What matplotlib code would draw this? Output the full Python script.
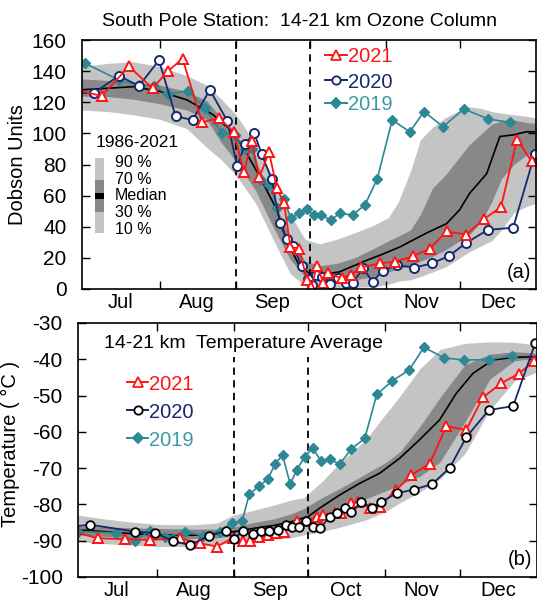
import numpy as np
import matplotlib
matplotlib.use("Agg")
import matplotlib.pyplot as plt
from matplotlib.patches import Rectangle
from matplotlib.lines import Line2D

plt.rcParams['font.family'] = ['Liberation Sans', 'DejaVu Sans']
plt.rcParams['axes.unicode_minus'] = False

# x axis is days since 1 July
month_starts = [31, 62, 92, 123, 153]
month_mids = [15, 46, 76.5, 107, 137.5, 168.5]
month_names = ['Jul', 'Aug', 'Sep', 'Oct', 'Nov', 'Dec']
dashed_days = [62, 92]

# ---- (a) 14-21 km ozone column, Dobson Units ----
oz21_day = [-3, 7.3, 18.4, 28, 34.3, 40.2, 48.1, 55, 61, 65.2, 68.3, 71.5, 75.4, 78.5, 81.5,
            84.1, 87.5, 90.9, 92.5, 95, 97.4, 99.5, 104.9, 108.6, 113, 120.5, 126.6, 133.8,
            140.8, 147.6, 155.7, 162.8, 169.7, 176.3, 182.2]
oz21 = [128, 124, 143, 129, 140, 148, 107, 110, 101, 75, 95, 72, 88, 65, 55,
        27, 26, 6, 1, 15, 4, 10, 7, 9, 14, 16.5, 17.5, 21,
        26, 37, 35, 45, 52.5, 96, 82]

oz20_day = [-3, 4.2, 14.3, 22.5, 30.6, 37.4, 44.3, 51.3, 58.4, 62.4, 65.6, 69.3, 72.4, 76.4,
            79.8, 82.5, 85.2, 88.6, 91.3, 92.7, 94.4, 96.8, 100.1, 103.5, 106.6, 109.4, 113.7,
            117.5, 121.6, 127.5, 134.4, 141.5, 148.6, 155.7, 164.5, 174.7, 183.5]
oz20 = [126, 126, 137, 130.5, 147, 111, 108.6, 128, 108, 79, 93, 100.5, 86.8, 70.7,
        42.6, 32, 27.6, 15, 6.2, 2.6, 9, 8, 3, 6.9, 3.6, 4, 13.3,
        4.7, 11.8, 15.4, 13.7, 16.4, 21.2, 29.8, 38, 39.4, 86.8]

oz19_day = [0.6, 14.3, 22.5, 28.6, 34.4, 42.5, 49.3, 56.3, 61.5, 65.6, 68.3, 72, 75.5, 78.7,
            81.4, 84.3, 87.5, 90.7, 93.6, 96.5, 100.4, 104.2, 109.4, 114.4, 119.4, 125.5,
            132.7, 138.4, 146.2, 154.6, 164.5, 173.3]
oz19 = [145, 134.3, 131, 130.5, 125, 127.5, 116, 100, 99, 89.8, 89.8, 70, 66.8, 51.9,
        57.6, 45.4, 48.6, 51.2, 47.6, 47.6, 44.3, 48.6, 47.6, 54, 70.7, 108.6,
        101, 114, 104.3, 115.7, 109.3, 107.1]

oz_med_day = [-1, 10, 20, 31, 42, 52.6, 60.7, 66, 71.7, 78.5, 82.5, 88, 92, 100, 104, 110,
              116, 121, 128.6, 139.5, 147.6, 153, 157, 163.9, 169.3, 174.7, 180, 184]
oz_med = [128, 129, 130, 127, 121.5, 112, 101, 88, 72, 51, 31.5, 14, 10, 10, 11, 15,
          19, 22, 27, 36, 42, 51, 61.5, 74, 98, 99, 101, 101]

oz_band_day = [-1, 10, 20, 31, 42, 50, 56, 62, 70, 77, 84, 90, 96, 103, 110, 118, 124, 128,
               133, 137, 142, 147, 152, 157, 162, 166, 170, 175, 180, 184]
oz_p90 = [143, 145, 146, 143, 137, 131, 122, 112, 93, 72, 48, 32, 29, 32, 36, 41, 46, 56,
          76, 96, 104, 110, 114, 117, 116, 114, 113, 112, 111, 110]
oz_p70 = [135, 134, 133, 131, 127, 121, 110, 99, 82, 58, 33, 18, 15, 16.5, 20, 26, 31, 34,
          38, 48, 65, 73, 83, 93, 100, 106, 108, 108.6, 107, 106.5]
oz_p30 = [124, 123.6, 122, 119, 115, 109, 94, 82, 63, 40, 19, 8, 5.5, 5.5, 5.8, 8, 11, 13,
          15, 18, 21, 25, 30, 35, 44, 56, 71, 80, 86, 87]
oz_p10 = [115, 114, 112, 109, 103, 91, 83, 73, 55, 32, 10, 2, 0.5, 0.5, 1, 1.5, 3, 5,
          6, 8, 11, 14, 19, 24, 28, 31, 38, 49, 53, 55]

# ---- (b) 14-21 km temperature average, deg C ----
t21_day = [-3, 7.3, 18.4, 28.3, 40.4, 48.4, 55.2, 61.5, 65.5, 68.5, 72, 75.6, 78.9, 82.2,
           87.6, 91.2, 95.3, 97.9, 102.6, 105.3, 109.3, 112, 116.7, 120.7, 127.4, 133.4,
           140.8, 147.5, 155.5, 162.2, 169.6, 176.6, 182.9]
t21 = [-87.5, -89.3, -89.6, -89.8, -89.3, -90.7, -91.6, -89.3, -90.2, -90.2, -89, -88.4, -88, -87.5,
       -84.7, -84.7, -83.4, -82.9, -82.4, -82.4, -79.7, -79.2, -81, -80.6, -76, -71.9,
       -68.8, -58.4, -59.5, -50.5, -46.6, -44, -40.4]

t20_day = [-3, 4.2, 22.4, 30.4, 37.4, 44.5, 51.9, 58.8, 62.2, 65.5, 69.6, 72.9, 76.2, 79.6,
           82.9, 85.6, 88.3, 91, 93.9, 96.6, 100.6, 103.7, 106.6, 109.3, 113.3, 117.7, 121.4,
           127.7, 134.5, 141.8, 148.8, 155.6, 164.6, 174.4, 183.3]
t20 = [-86.1, -85.6, -87.5, -87.9, -90, -91.3, -88.6, -87.3, -89.6, -87.3, -88.1, -87.2, -87.2, -87,
       -85.6, -86.3, -86.1, -84.7, -86.1, -86.6, -83.5, -82.3, -81, -82.1, -79.2, -81, -79.2,
       -76.9, -75.9, -74.4, -70, -61.4, -54, -52.9, -35.5]

t19_day = [-0.5, 14.4, 22.4, 28.3, 34.5, 42.5, 49.5, 56.4, 61.2, 65.3, 68.2, 72.2, 75.6, 78.6,
           81.6, 84.7, 87.3, 90.6, 93.7, 97, 100.6, 104.6, 109.3, 114.7, 119.5, 125.5, 132.6,
           138.5, 146.6, 154.5, 164.6, 173.8]
t19 = [-87.5, -87.8, -90, -87.2, -89.1, -87.5, -88.6, -87.5, -85, -84.7, -77.2, -74.9, -73.1, -68.9,
       -66.4, -74.4, -70.5, -66.8, -64.5, -67.9, -67.6, -68.9, -64.7, -61.8, -49.7, -46.1, -42.9,
       -36.7, -39.6, -40.2, -40.1, -39.1]

t_med_day = [-1, 10, 20, 31, 45, 55, 62, 70, 78, 85, 88.6, 92, 96.6, 104.6, 112.6, 120.7, 128.7,
             136.7, 144.8, 151.5, 158.2, 166.2, 174.2, 182.3, 184]
t_med = [-87, -87.5, -88, -88.4, -88.5, -88.2, -87.5, -86.6, -85.8, -84.8, -84, -83.3, -81, -77.4,
         -74.2, -71.4, -67.3, -62.2, -56.7, -49.4, -43.9, -40.2, -39.5, -39.3, -39.3]

t_band_day = [-1, 10, 20, 31, 45, 55, 62, 70, 78, 85, 90, 97, 105, 115, 123, 129, 137, 145,
              155, 165, 175, 184]
t_p90 = [-82.9, -84.0, -84.8, -85.5, -85.6, -85.2, -82.9, -81.6, -80.2, -78.8, -78.2, -74.0, -68.3,
         -62.2, -55.2, -50.0, -42.5, -37.3, -35.6, -35.2, -35.3, -36.1]
t_p70 = [-86, -86.2, -86.4, -86.6, -86.8, -86.8, -86.2, -85, -84, -82.6, -81.2, -78.3, -75.5,
         -71.6, -68.5, -65.4, -58.4, -50.5, -41.5, -38.6, -37.9, -38.3]
t_p30 = [-88.4, -88.8, -89.2, -89.4, -89.4, -89.2, -88.5, -87.8, -87, -85.8, -84.8, -82.8, -81,
         -78.5, -76.3, -74.5, -72.2, -68.3, -57.3, -45.5, -40.4, -39.7]
t_p10 = [-90.2, -90.8, -91.2, -91.6, -91.6, -91.3, -90.2, -90, -89.6, -89.2, -88.4, -87.6, -86.2,
         -84.3, -82, -79.5, -76.5, -73.0, -66.0, -54, -46, -43.5]

RED = '#ff1414'
NAVY = '#16296e'
TEAL = '#2d8794'
TEAL_TXT = '#3a9ba6'
LIGHT = '#c4c4c4'
DARK = '#888888'

W, H = 537, 602
fig = plt.figure(figsize=(W / 100, H / 100), dpi=100)
ax1 = fig.add_axes([82 / W, 1 - 289 / H, 454 / W, 249 / H])
ax2 = fig.add_axes([78 / W, 1 - 577 / H, 459 / W, 254 / H])


def fx(px):
    return px / W


def fy(py):
    return 1 - py / H


def style(ax, ylim, yticks):
    ax.set_xlim(-0.7, 184)
    ax.set_ylim(*ylim)
    ax.set_xticks(month_starts)
    ax.set_xticklabels([])
    ax.set_xticks(month_mids, minor=True)
    ax.set_xticklabels(month_names, minor=True)
    ax.tick_params(axis='x', which='major', direction='in', top=True, bottom=True,
                   length=6, width=1)
    ax.tick_params(axis='x', which='minor', length=0, labelsize=14.5, pad=3)
    ax.set_yticks(yticks)
    ax.tick_params(axis='y', direction='in', left=True, right=True, length=6, width=1,
                   labelsize=15, pad=11)
    for s in ax.spines.values():
        s.set_linewidth(1.2)


# panel (a)
ax1.fill_between(oz_band_day, oz_p10, oz_p90, color=LIGHT, lw=0)
ax1.fill_between(oz_band_day, oz_p30, oz_p70, color=DARK, lw=0)
ax1.plot(oz_med_day, oz_med, color='black', lw=1.2)
for d in dashed_days:
    ax1.axvline(d, color='black', ls=(0, (4, 3)), lw=1.3)
ax1.plot(oz19_day, oz19, '-D', color=TEAL, lw=1.2, ms=5.5, mfc=TEAL, mec=TEAL)
ax1.plot(oz20_day, oz20, '-o', color=NAVY, lw=1.3, ms=6.5, mfc='white', mec=NAVY, mew=1.4)
ax1.plot(oz21_day, oz21, '-^', color=RED, lw=1.3, ms=7.5, mfc='white', mec=RED, mew=1.4)
style(ax1, (0, 160), np.arange(0, 161, 20))
ax1.set_ylabel('Dobson Units', fontsize=14.5)
ax1.yaxis.set_label_coords(-0.121, 0.5)
ax1.text(0.962, 0.065, '(a)', transform=ax1.transAxes, fontsize=14.5, ha='center', va='center')

# panel (b)
ax2.fill_between(t_band_day, t_p10, t_p90, color=LIGHT, lw=0)
ax2.fill_between(t_band_day, t_p30, t_p70, color=DARK, lw=0)
ax2.plot(t_med_day, t_med, color='black', lw=1.2)
for d in dashed_days:
    ax2.vlines(d, -100, -39.5, color='black', linestyles=[(0, (4, 3))], lw=1.3)
ax2.plot(t19_day, t19, '-D', color=TEAL, lw=1.2, ms=5.5, mfc=TEAL, mec=TEAL)
ax2.plot(t21_day, t21, '-^', color=RED, lw=1.3, ms=7, mfc='white', mec=RED, mew=1.4)
ax2.plot(t20_day, t20, '-o', color=NAVY, lw=1.3, ms=6.2, mfc='white', mec='black', mew=1.3)
style(ax2, (-100, -30), np.arange(-100, -29, 10))
ax2.set_ylabel('Temperature ( \u00b0C )', fontsize=14.5)
ax2.yaxis.set_label_coords(-0.126, 0.524)
ax2.text(0.962, 0.07, '(b)', transform=ax2.transAxes, fontsize=14.5, ha='center', va='center')

# titles
fig.text(fx(300), fy(22), 'South Pole Station:  14-21 km Ozone Column', fontsize=14,
         ha='center', va='center')
fig.text(fx(104), fy(343), '14-21 km  Temperature Average', fontsize=14,
         ha='left', va='center')


def legend_entry(x0, x1, y, label, line_c, txt_c, marker, mfc, mec, ms):
    fig.add_artist(Line2D([fx(x0), fx((x0 + x1) / 2), fx(x1)], [fy(y)] * 3,
                          transform=fig.transFigure, color=line_c, lw=1.4, marker=marker,
                          markevery=[1], mfc=mfc, mec=mec, ms=ms, mew=1.3))
    fig.text(fx(x1 + 1), fy(y), label, color=txt_c, fontsize=14.5, ha='left',
             va='center_baseline')


legend_entry(325, 347, 55, '2021', RED, RED, '^', 'white', RED, 7)
legend_entry(325, 347, 80, '2020', NAVY, NAVY, 'o', 'white', NAVY, 6)
legend_entry(325, 347, 103, '2019', TEAL, TEAL_TXT, 'D', TEAL, TEAL, 5.5)

legend_entry(127, 148, 382, '2021', RED, RED, '^', 'white', RED, 7)
legend_entry(127, 148, 410, '2020', NAVY, NAVY, 'o', 'white', 'black', 6)
legend_entry(127, 148, 438, '2019', TEAL, TEAL_TXT, 'D', TEAL, TEAL, 5.5)

# percentile key
key = [(158.3, 180, LIGHT), (180, 192.7, DARK), (192.7, 199, 'black'),
       (199, 211.7, DARK), (211.7, 232.7, LIGHT)]
for top, bot, c in key:
    fig.add_artist(Rectangle((fx(95), fy(bot)), 9 / W, (bot - top) / H,
                             transform=fig.transFigure, color=c, lw=0))
fig.text(fx(96), fy(143), '1986-2021', fontsize=12.5, ha='left', va='center')
for lab, y in zip(['90 %', '70 %', 'Median', '30 %', '10 %'], [163, 180, 196, 213, 229]):
    fig.text(fx(115), fy(y), lab, fontsize=11.5, ha='left', va='center')

fig.savefig('out.png', dpi=100)
